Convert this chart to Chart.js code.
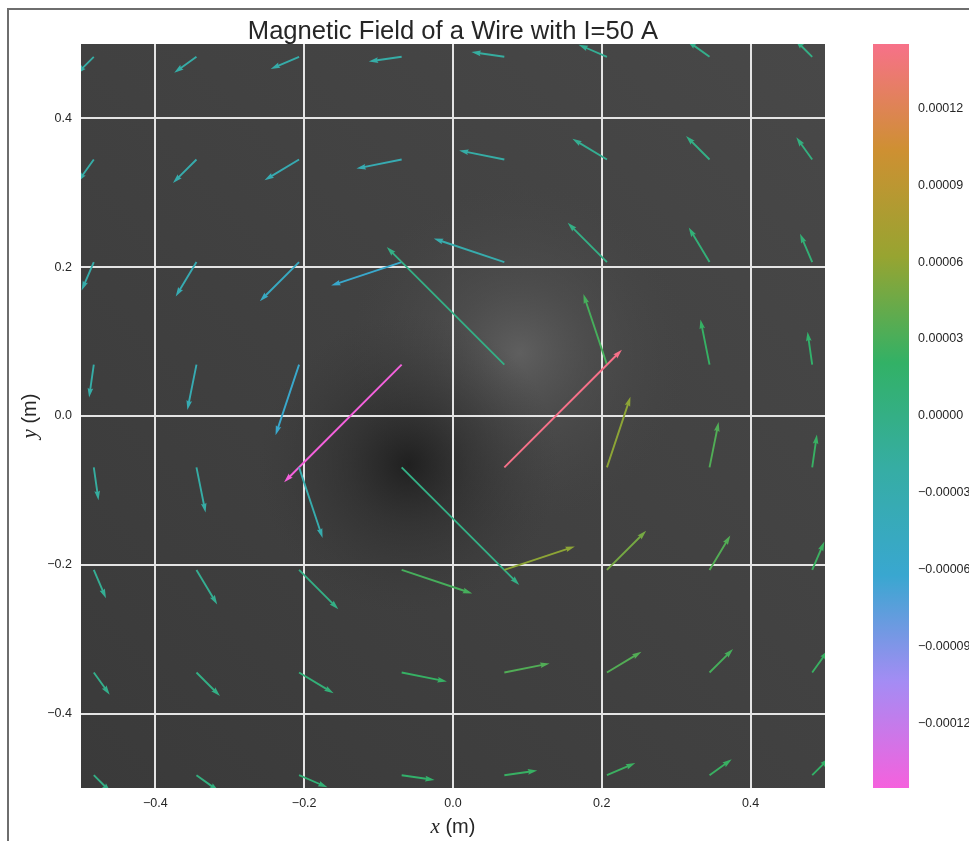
<!DOCTYPE html>
<html>
<head>
<meta charset="utf-8">
<title>Magnetic Field of a Wire</title>
<script src="https://cdn.jsdelivr.net/npm/chart.js@4.4.1/dist/chart.umd.min.js"></script>
<style>
    html, body { margin: 0; padding: 0; background: #ffffff; }
    #wrap { position: relative; width: 969px; height: 841px; }
</style>
</head>
<body>
<div id="wrap"><canvas id="myChart" width="969" height="841"></canvas></div>
<script>
// positions of the arrow tails (m)
const xPos = [-0.4828, -0.3448, -0.2069, -0.0690, 0.0690, 0.2069, 0.3448, 0.4828];
const yPos = [0.4828, 0.3448, 0.2069, 0.0690, -0.0690, -0.2069, -0.3448, -0.4828];

// field components in microtesla, one row per yPos (top to bottom)
const bxRows = [
    [-10.4, -13.7, -17.5, -20.3, -20.3, -17.5, -13.7, -10.4],
    [-9.8, -14.5, -21.3, -27.9, -27.9, -21.3, -14.5, -9.8],
    [-7.5, -12.8, -24.2, -43.5, -43.5, -24.2, -12.8, -7.5],
    [-2.9, -5.6, -14.5, -72.5, -72.5, -14.5, -5.6, -2.9],
    [2.9, 5.6, 14.5, 72.5, 72.5, 14.5, 5.6, 2.9],
    [7.5, 12.8, 24.2, 43.5, 43.5, 24.2, 12.8, 7.5],
    [9.8, 14.5, 21.3, 27.9, 27.9, 21.3, 14.5, 9.8],
    [10.4, 13.7, 17.5, 20.3, 20.3, 17.5, 13.7, 10.4]
];
const byRows = [
    [-10.4, -9.8, -7.5, -2.9, 2.9, 7.5, 9.8, 10.4],
    [-13.7, -14.5, -12.8, -5.6, 5.6, 12.8, 14.5, 13.7],
    [-17.5, -21.3, -24.2, -14.5, 14.5, 24.2, 21.3, 17.5],
    [-20.3, -27.9, -43.5, -72.5, 72.5, 43.5, 27.9, 20.3],
    [-20.3, -27.9, -43.5, -72.5, 72.5, 43.5, 27.9, 20.3],
    [-17.5, -21.3, -24.2, -14.5, 14.5, 24.2, 21.3, 17.5],
    [-13.7, -14.5, -12.8, -5.6, 5.6, 12.8, 14.5, 13.7],
    [-10.4, -9.8, -7.5, -2.9, 2.9, 7.5, 9.8, 10.4]
];

const xTicks = [-0.4, -0.2, 0, 0.2, 0.4];
const yTicks = [-0.4, -0.2, 0, 0.2, 0.4];
const cbarTicks = [-120, -90, -60, -30, 0, 30, 60, 90, 120];   // microtesla
const cbarRange = [-145, 145];
const palette = ['#f561dd', '#a48cf4', '#39a7d0', '#36ada4', '#32b166', '#97a431', '#ce9032', '#f77189'];

const ARROW_SCALE = 0.00218;   // metres of arrow per microtesla
const SANS = '"Liberation Sans", Arial, sans-serif';

//turn a hex colour into [r,g,b]
function hexToRgb(h) {
    return [parseInt(h.substr(1, 2), 16), parseInt(h.substr(3, 2), 16), parseInt(h.substr(5, 2), 16)];
}
const paletteRgb = palette.map(hexToRgb);

//colour of a value on the colorbar
function colorFor(v) {
    let t = (v - cbarRange[0]) / (cbarRange[1] - cbarRange[0]);
    t = Math.max(0, Math.min(1, t)) * (paletteRgb.length - 1);
    let i = Math.min(Math.floor(t), paletteRgb.length - 2);
    let f = t - i;
    let a = paletteRgb[i], b = paletteRgb[i + 1];
    let c = a.map((x, k) => Math.round(x + (b[k] - x) * f));
    return `rgb(${c[0]},${c[1]},${c[2]})`;
}

function numLabel(v, digits) {
    let s = Math.abs(v).toFixed(digits);
    return (v < -1e-12 ? '\u2212' : '') + s;
}

// one point per arrow tail
let arrows = [];
for (let j = 0; j < yPos.length; j++) {
    for (let i = 0; i < xPos.length; i++) {
        arrows.push({ x: xPos[i], y: yPos[j], u: bxRows[j][i], v: byRows[j][i] });
    }
}

function drawArrow(ctx, x0, y0, x1, y1) {
    let dx = x1 - x0, dy = y1 - y0, len = Math.hypot(dx, dy);
    let ux = dx / len, uy = dy / len, nx = -uy, ny = ux;
    let w = 1.9, hl = 5 * w, hal = 4.5 * w, hw = 3 * w;
    let bx = x1 - ux * hal, by = y1 - uy * hal;
    let hx = x1 - ux * hl, hy = y1 - uy * hl;
    ctx.beginPath();
    ctx.moveTo(x0 + nx * w / 2, y0 + ny * w / 2);
    ctx.lineTo(bx + nx * w / 2, by + ny * w / 2);
    ctx.lineTo(hx + nx * hw / 2, hy + ny * hw / 2);
    ctx.lineTo(x1, y1);
    ctx.lineTo(hx - nx * hw / 2, hy - ny * hw / 2);
    ctx.lineTo(bx - nx * w / 2, by - ny * w / 2);
    ctx.lineTo(x0 - nx * w / 2, y0 - ny * w / 2);
    ctx.closePath();
    ctx.fill();
}

//background shading of the axes
const backgroundPlugin = {
    id: 'fieldBackground',
    beforeDraw(chart) {
        let ctx = chart.ctx, a = chart.chartArea, sx = chart.scales.x, sy = chart.scales.y;
        ctx.save();
        let lin = ctx.createLinearGradient(a.left, a.bottom, a.right, a.top);
        lin.addColorStop(0, '#3a3a3a');
        lin.addColorStop(1, '#484848');
        ctx.fillStyle = lin;
        ctx.fillRect(a.left, a.top, a.right - a.left, a.bottom - a.top);
        ctx.beginPath();
        ctx.rect(a.left, a.top, a.right - a.left, a.bottom - a.top);
        ctx.clip();
        // light patch
        let lx = sx.getPixelForValue(0.09), ly = sy.getPixelForValue(0.085);
        let g1 = ctx.createRadialGradient(lx, ly, 0, lx, ly, 170);
        g1.addColorStop(0, 'rgba(100,100,100,0.85)');
        g1.addColorStop(0.4, 'rgba(88,88,88,0.45)');
        g1.addColorStop(1, 'rgba(72,72,72,0)');
        ctx.fillStyle = g1;
        ctx.fillRect(a.left, a.top, a.right - a.left, a.bottom - a.top);
        // dark patch
        let dxp = sx.getPixelForValue(-0.06), dyp = sy.getPixelForValue(-0.065);
        let g2 = ctx.createRadialGradient(dxp, dyp, 0, dxp, dyp, 150);
        g2.addColorStop(0, 'rgba(30,30,30,0.95)');
        g2.addColorStop(0.4, 'rgba(40,40,40,0.5)');
        g2.addColorStop(1, 'rgba(55,55,55,0)');
        ctx.fillStyle = g2;
        ctx.fillRect(a.left, a.top, a.right - a.left, a.bottom - a.top);
        ctx.restore();
    }
};

//arrows, colorbar, title and axis labels
const quiverPlugin = {
    id: 'quiver',
    afterDatasetsDraw(chart) {
        let ctx = chart.ctx, a = chart.chartArea, sx = chart.scales.x, sy = chart.scales.y;
        ctx.save();
        ctx.beginPath();
        ctx.rect(a.left, a.top, a.right - a.left, a.bottom - a.top);
        ctx.clip();
        chart.data.datasets[0].data.forEach(p => {
            let x0 = sx.getPixelForValue(p.x), y0 = sy.getPixelForValue(p.y);
            let x1 = sx.getPixelForValue(p.x + p.u * ARROW_SCALE);
            let y1 = sy.getPixelForValue(p.y + p.v * ARROW_SCALE);
            ctx.fillStyle = colorFor(p.u + p.v);
            drawArrow(ctx, x0, y0, x1, y1);
        });
        ctx.restore();
    },
    afterDraw(chart) {
        let ctx = chart.ctx, a = chart.chartArea, sc = chart.scales.c;
        ctx.save();
        // colorbar
        let top = sc.getPixelForValue(cbarRange[1]), bottom = sc.getPixelForValue(cbarRange[0]);
        let g = ctx.createLinearGradient(0, bottom, 0, top);
        palette.forEach((col, i) => g.addColorStop(i / (palette.length - 1), col));
        ctx.fillStyle = g;
        ctx.fillRect(a.right + 48, top, 36, bottom - top);

        // title
        ctx.fillStyle = '#262626';
        ctx.font = '25.6px ' + SANS;
        ctx.textAlign = 'center';
        ctx.textBaseline = 'alphabetic';
        ctx.fillText('Magnetic Field of a Wire with I=50 A', (a.left + a.right) / 2, 39);

        // axis labels with an italic variable
        function mathLabel(name, cx, cy) {
            ctx.font = 'italic 21px "Liberation Serif", "DejaVu Serif", serif';
            let w1 = ctx.measureText(name).width;
            ctx.font = '20px ' + SANS;
            let w2 = ctx.measureText(' (m)').width;
            let x = cx - (w1 + w2) / 2;
            ctx.textAlign = 'left';
            ctx.font = 'italic 21px "Liberation Serif", "DejaVu Serif", serif';
            ctx.fillText(name, x, cy);
            ctx.font = '20px ' + SANS;
            ctx.fillText(' (m)', x + w1, cy);
        }
        mathLabel('x', (a.left + a.right) / 2, 833);
        ctx.save();
        ctx.translate(36, (a.top + a.bottom) / 2);
        ctx.rotate(-Math.PI / 2);
        mathLabel('y', 0, 0);
        ctx.restore();

        // outer frame
        ctx.strokeStyle = '#6e6e6e';
        ctx.lineWidth = 2;
        ctx.beginPath();
        ctx.moveTo(8, 841);
        ctx.lineTo(8, 9);
        ctx.lineTo(969, 9);
        ctx.stroke();
        ctx.restore();
    }
};

const tickFont = { family: SANS, size: 12.5 };

let ctx = document.getElementById('myChart').getContext('2d');
let myChart = new Chart(ctx, {
    type: 'scatter',
    data: {
        datasets: [{
            label: 'B',
            data: arrows,
            pointRadius: 0,
            pointHoverRadius: 0
        }]
    },
    options: {
        responsive: false,
        animation: false,
        events: [],
        layout: { padding: { top: 44, left: 0, right: 0, bottom: 0 } },
        plugins: {
            legend: { display: false },
            tooltip: { enabled: false },
            title: { display: false }
        },
        scales: {
            x: {
                type: 'linear',
                min: -0.5,
                max: 0.5,
                afterBuildTicks: s => { s.ticks = xTicks.map(v => ({ value: v })); },
                afterFit: s => { s.height = 53; },
                grid: { color: '#e4e4e4', lineWidth: 2, drawTicks: false },
                border: { display: false },
                ticks: { padding: 8, color: '#262626', font: tickFont, maxRotation: 0, callback: v => numLabel(v, 1) }
            },
            y: {
                type: 'linear',
                min: -0.5,
                max: 0.5,
                afterBuildTicks: s => { s.ticks = yTicks.map(v => ({ value: v })); },
                afterFit: s => { s.width = 81; },
                grid: { color: '#e4e4e4', lineWidth: 2, drawTicks: false },
                border: { display: false },
                ticks: { padding: 9, color: '#262626', font: tickFont, callback: v => numLabel(v, 1) }
            },
            c: {
                type: 'linear',
                position: 'right',
                min: cbarRange[0],
                max: cbarRange[1],
                afterBuildTicks: s => { s.ticks = cbarTicks.map(v => ({ value: v })); },
                afterFit: s => { s.width = 144; },
                // invisible tick marks push the labels past the colorbar
                grid: { display: true, drawOnChartArea: false, drawTicks: true, tickLength: 93, color: 'rgba(0,0,0,0)' },
                border: { display: false },
                ticks: { padding: 0, color: '#262626', font: tickFont, callback: v => numLabel(v * 1e-6, 5) }
            }
        }
    },
    plugins: [backgroundPlugin, quiverPlugin]
});
</script>
</body>
</html>
